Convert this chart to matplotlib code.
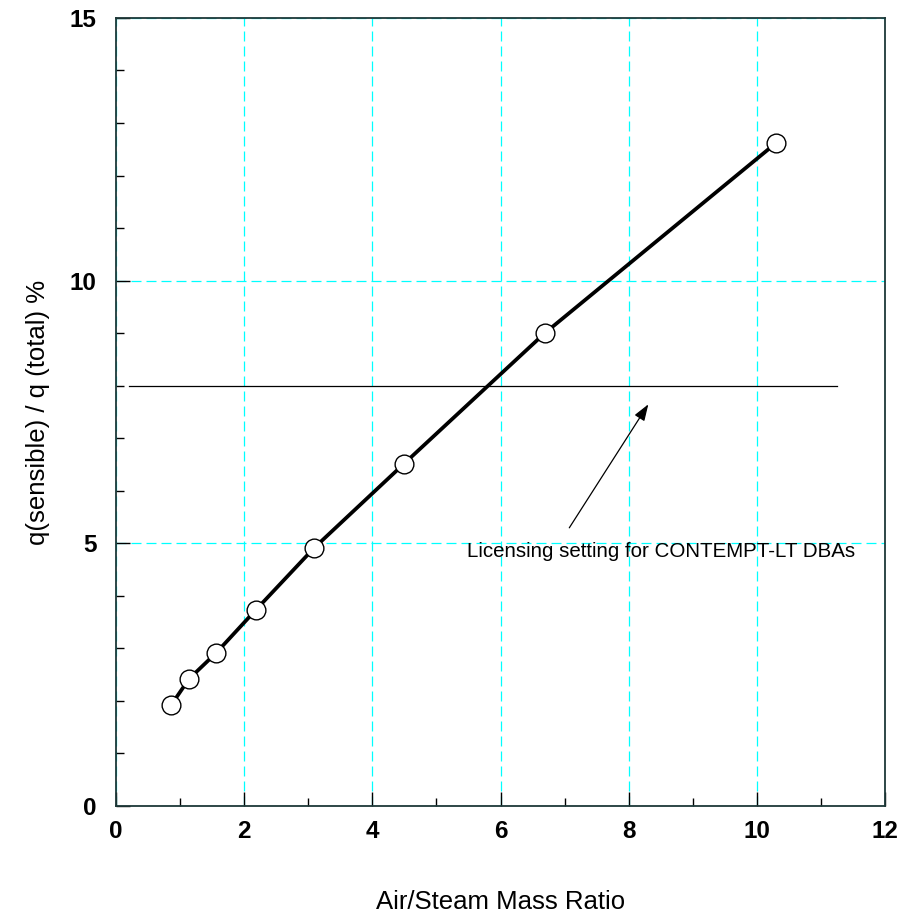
import matplotlib.pyplot as plt
from matplotlib.ticker import MultipleLocator

plt.rcParams['font.family'] = ['Liberation Sans', 'DejaVu Sans']

# air/steam ratio vs sensible heat fraction
mass_ratio = [0.86, 1.14, 1.56, 2.18, 3.09, 4.49, 6.69, 10.30]
sensible_pct = [1.92, 2.42, 2.91, 3.73, 4.91, 6.51, 9.00, 12.62]

licensing_level = 8.0
licensing_span = [0.2, 11.25]

fig = plt.figure(figsize=(9.05, 9.21), dpi=100)
ax = fig.add_axes([0.1282, 0.1249, 0.8497, 0.8556])

ax.plot(mass_ratio, sensible_pct, color='black', lw=2.7, zorder=3)
ax.plot(mass_ratio, sensible_pct, 'o', ms=13.5, mfc='white', mec='black', mew=1.0, zorder=4)

ax.plot(licensing_span, [licensing_level, licensing_level], color='black', lw=0.9, zorder=2)
ax.annotate('', xy=(8.33, 7.69), xytext=(7.05, 5.25),
            arrowprops=dict(arrowstyle='-|>,head_length=1.0,head_width=0.35',
                            color='black', lw=0.9))
ax.text(5.48, 4.85, 'Licensing setting for CONTEMPT-LT DBAs', fontsize=14.8,
        ha='left', va='center')

ax.set_xlim(0, 12)
ax.set_ylim(0, 15)
ax.xaxis.set_major_locator(MultipleLocator(2))
ax.xaxis.set_minor_locator(MultipleLocator(1))
ax.yaxis.set_major_locator(MultipleLocator(5))
ax.yaxis.set_minor_locator(MultipleLocator(1))
ax.tick_params(which='both', direction='in', labelsize=17.5, width=1.0)
ax.tick_params(which='major', length=10)
ax.tick_params(axis='x', which='major', pad=10)
ax.tick_params(axis='y', which='major', pad=14)
ax.tick_params(which='minor', length=6)
for lbl in ax.get_xticklabels() + ax.get_yticklabels():
    lbl.set_fontweight('bold')
ax.grid(True, which='major', color='cyan', ls=(0, (8, 4)), lw=0.9)

for s in ax.spines.values():
    s.set_color('#1e3838')
    s.set_linewidth(1.3)

ax.set_xlabel('Air/Steam Mass Ratio', fontsize=18.5, labelpad=34)
ax.set_ylabel('q(sensible) / q (total) %', fontsize=18.5, labelpad=14)

fig.savefig('out.png')
